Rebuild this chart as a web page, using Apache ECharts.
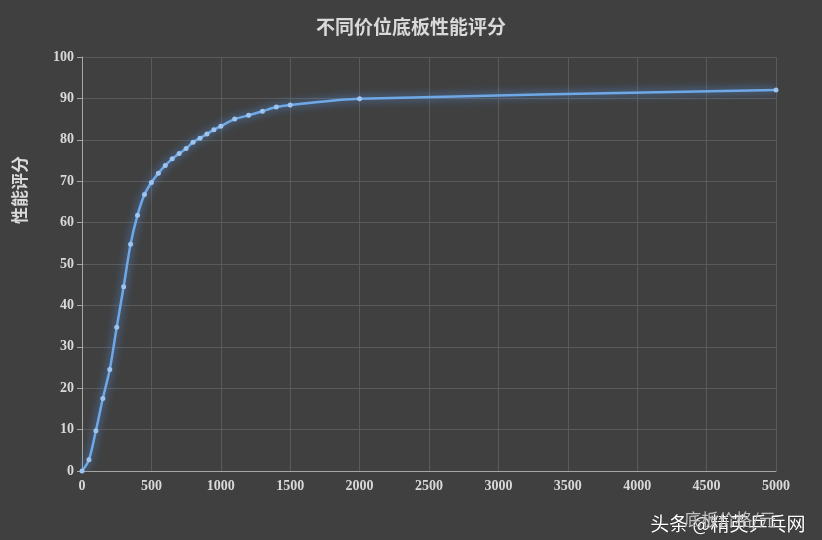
<!DOCTYPE html>
<html><head><meta charset="utf-8">
<script src="https://cdn.jsdelivr.net/npm/echarts@6/dist/echarts.min.js"></script>
<style>html,body{margin:0;background:#404040}#c{width:822px;height:540px}</style>
</head><body><div id="c"></div>
<script>
// 底板价格（元）与性能评分
const prices = [0,50,100,150,200,250,300,350,400,450,500,550,600,650,700,750,800,850,900,950,1000,1100,1200,1300,1400,1500,2000,5000];
const scores = [0,2.7,9.7,17.5,24.5,34.7,44.5,54.8,61.8,66.8,69.7,71.9,73.8,75.4,76.7,77.9,79.4,80.4,81.4,82.4,83.3,85,85.9,86.9,87.9,88.4,89.9,92];

const chart = echarts.init(document.getElementById('c'));
const serif = '"Liberation Serif", "Noto Sans CJK SC", serif';
chart.setOption({
  backgroundColor: '#404040',
  title: {
    text: '不同价位底板性能评分', left: 'center', top: 12,
    textStyle: { color: '#d9d9d9', fontSize: 19, fontWeight: 'bold', fontFamily: '"Noto Sans CJK SC"' }
  },
  grid: { left: 82, right: 46, top: 57, bottom: 69 },
  xAxis: {
    type: 'value', min: 0, max: 5000, interval: 500,
    name: '底板价格/元', nameLocation: 'end', nameGap: 0,
    nameTextStyle: { color: '#bfbfbf', fontSize: 17, fontFamily: '"Noto Sans CJK SC"', align: 'right', verticalAlign: 'top', padding: [40, 0, 0, 0] },
    axisLine: { lineStyle: { color: '#a6a6a6' } },
    axisTick: { show: false },
    axisLabel: { color: '#d9d9d9', fontSize: 14, fontWeight: 'bold', fontFamily: serif, formatter: v => String(v) },
    splitLine: { lineStyle: { color: '#5a5a5a' } }
  },
  yAxis: {
    type: 'value', min: 0, max: 100, interval: 10,
    axisLine: { show: true, lineStyle: { color: '#a6a6a6' } },
    axisLabel: { color: '#d9d9d9', fontSize: 14, fontWeight: 'bold', fontFamily: serif },
    splitLine: { lineStyle: { color: '#5a5a5a' } }
  },
  series: [{
    type: 'line', smooth: 0.3,
    data: prices.map((p, i) => [p, scores[i]]),
    symbol: 'circle', symbolSize: 5,
    itemStyle: { color: '#9dc3ef' },
    lineStyle: { color: '#6fa8e6', width: 2.5, shadowBlur: 8, shadowColor: 'rgba(90,160,255,0.9)' }
  }],
  graphic: [{
    type: 'text', x: 20, y: 190, rotation: Math.PI / 2,
    style: { text: '性能评分', fill: '#d9d9d9', font: 'bold 17px "Noto Sans CJK SC"', align: 'center', verticalAlign: 'middle' }
  }, {
    type: 'text', x: 23, y: 150, rotation: Math.PI / 2, invisible: true,
    style: { text: '' }
  }, {
    type: 'text', right: 16, bottom: 6,
    style: { text: '头条 @精英乒乓网', fill: '#ffffff', font: '19px "Noto Sans CJK SC"', stroke: 'rgba(0,0,0,0.3)', lineWidth: 1 }
  }]
});
</script></body></html>
